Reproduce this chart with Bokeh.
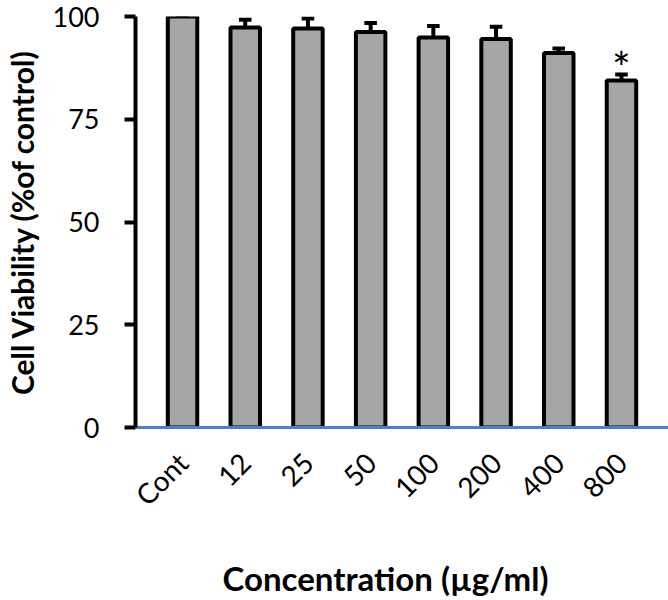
from math import pi
from bokeh.plotting import figure
from bokeh.models import Range1d, FixedTicker, Title
from bokeh.core.properties import value
from bokeh.embed import file_html
from bokeh.resources import INLINE

categories = ["Cont", "12", "25", "50", "100", "200", "400", "800"]
viability = [100.0, 97.3, 97.1, 96.2, 94.9, 94.5, 91.1, 84.4]
errors = [0.0, 1.9, 2.4, 2.2, 2.8, 3.0, 1.1, 1.5]
significance = ["", "", "", "", "", "", "", "*"]
y_ticks = [0, 25, 50, 75, 100]

FONT = "Lato"
xs = list(range(len(categories)))

p = figure(width=668, height=600, output_backend="svg", toolbar_location=None,
           x_range=Range1d(-0.75, 7.75), y_range=Range1d(0, 100),
           min_border_left=135, min_border_right=0, min_border_top=16,
           min_border_bottom=173)
p.outline_line_color = None
p.xgrid.visible = False
p.ygrid.visible = False

# error bars (upper whisker only)
tops = [v + e for v, e in zip(viability, errors)]
p.segment(x0=xs, y0=viability, x1=xs, y1=tops, line_color="black", line_width=4)
p.segment(x0=[x - 0.1 for x in xs], y0=tops, x1=[x + 0.1 for x in xs], y1=tops,
          line_color="black", line_width=4)

p.vbar(x=xs, top=viability, bottom=0, width=0.47, fill_color="#A6A6A6",
       line_color="black", line_width=4)

# significance marker
star_y = [t + 1.8 for t in tops]
p.text(x=xs, y=star_y, text=significance, text_align="center", text_baseline="middle",
       text_font=value(FONT), text_font_size="44px", text_color="black")

# y axis
ya = p.yaxis[0]
ya.ticker = FixedTicker(ticks=y_ticks)
ya.axis_line_color = "black"
ya.axis_line_width = 4
ya.major_tick_line_color = "black"
ya.major_tick_line_width = 4
ya.major_tick_out = 11
ya.major_tick_in = 0
ya.minor_tick_line_color = None
ya.major_label_text_font = FONT
ya.major_label_text_font_size = "27px"
ya.major_label_text_color = "black"
ya.major_label_standoff = 25
ya.axis_label = "Cell Viability (%of control)"
ya.axis_label_text_font = FONT
ya.axis_label_text_font_style = "bold"
ya.axis_label_text_font_size = "30px"
ya.axis_label_text_color = "black"
ya.axis_label_standoff = 10

# x axis
xa = p.xaxis[0]
xa.ticker = FixedTicker(ticks=xs)
xa.major_label_overrides = {i: c for i, c in zip(xs, categories)}
xa.axis_line_color = "#4F81BD"
xa.axis_line_width = 3
xa.major_tick_line_color = None
xa.major_tick_out = 0
xa.major_tick_in = 0
xa.minor_tick_line_color = None
xa.major_label_orientation = pi / 4
xa.major_label_text_font = FONT
xa.major_label_text_font_size = "28px"
xa.major_label_text_color = "black"
xa.major_label_standoff = 30
xa.axis_label = " "
xa.axis_label_text_font_size = "1px"
xa.axis_label_standoff = 22

p.add_layout(Title(text="Concentration (µg/ml)", align="left", offset=87, standoff=6,
                   text_font=FONT, text_font_style="bold", text_font_size="33px",
                   text_color="black"), "below")

open("out.html", "w").write(file_html(p, INLINE))
